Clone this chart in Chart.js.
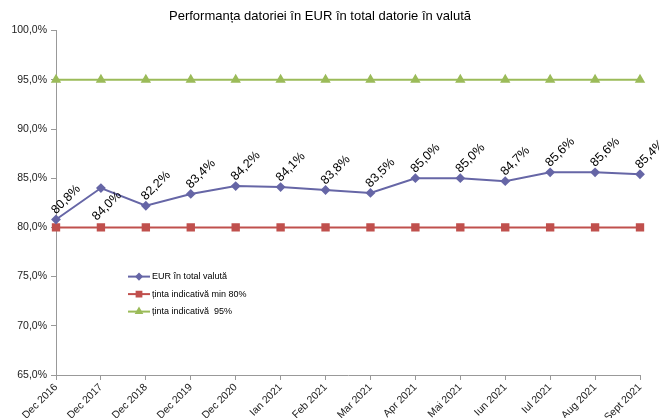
<!DOCTYPE html>
<html>
<head>
<meta charset="utf-8">
<script src="https://cdn.jsdelivr.net/npm/chart.js@4"></script>
<style>
  html, body { margin: 0; padding: 0; background: #fff; }
  #wrap { width: 659px; height: 418px; }
</style>
</head>
<body>
<div id="wrap"><canvas id="chart" width="659" height="418"></canvas></div>
<script>
// Data
const months = ['Dec 2016', 'Dec 2017', 'Dec 2018', 'Dec 2019', 'Dec 2020', 'Ian 2021', 'Feb 2021',
    'Mar 2021', 'Apr 2021', 'Mai 2021', 'Iun 2021', 'Iul 2021', 'Aug 2021', 'Sept 2021'];
const eurShare = [80.8, 84.0, 82.2, 83.4, 84.2, 84.1, 83.8, 83.5, 85.0, 85.0, 84.7, 85.6, 85.6, 85.4];
const targetMin = months.map(() => 80);
const target95 = months.map(() => 95);
const seriesNames = ['EUR în total valută', 'ținta indicativă min 80%', 'ținta indicativă  95%'];

const FONT = '"Liberation Sans", Arial, sans-serif';
const fmt = v => v.toFixed(1).replace('.', ',') + '%';

// value labels, rotated like the Excel original
const valueLabels = {
    id: 'valueLabels',
    afterDatasetsDraw(chart) {
        const ctx = chart.ctx;
        const meta = chart.getDatasetMeta(0);
        ctx.save();
        ctx.font = '12.5px ' + FONT;
        ctx.fillStyle = '#000';
        ctx.textAlign = 'center';
        ctx.textBaseline = 'middle';
        meta.data.forEach((pt, i) => {
            const below = i === 1; // Excel put this one under the point
            ctx.save();
            ctx.translate(pt.x + (below ? 6 : 10), pt.y + (below ? 18 : -20));
            ctx.rotate(-Math.PI / 4);
            ctx.fillText(fmt(eurShare[i]), 0, 0);
            ctx.restore();
        });
        ctx.restore();
    }
};

// legend drawn inside the plot area
const innerLegend = {
    id: 'innerLegend',
    afterDraw(chart) {
        const ctx = chart.ctx;
        const area = chart.chartArea;
        const x0 = area.left + 72;
        let y = area.top + 246;
        ctx.save();
        ctx.font = '9px ' + FONT;
        ctx.textBaseline = 'middle';
        chart.data.datasets.forEach(ds => {
            ctx.strokeStyle = ds.borderColor;
            ctx.lineWidth = 2;
            ctx.beginPath();
            ctx.moveTo(x0, y);
            ctx.lineTo(x0 + 22, y);
            ctx.stroke();
            ctx.fillStyle = ds.backgroundColor;
            Chart.helpers.drawPoint(ctx, {
                pointStyle: ds.pointStyle,
                radius: ds.pointRadius * 0.75,
                borderWidth: 1
            }, x0 + 11, y);
            ctx.fillStyle = '#000';
            ctx.fillText(ds.label, x0 + 24, y);
            y += 17.5;
        });
        ctx.restore();
    }
};

const ctx = document.getElementById('chart').getContext('2d');
new Chart(ctx, {
    type: 'line',
    data: {
        labels: months,
        datasets: [
            {
                label: seriesNames[0],
                data: eurShare,
                borderColor: '#6666A6',
                backgroundColor: '#6666A6',
                borderWidth: 2,
                pointStyle: 'rectRot',
                pointRadius: 3.5,
                clip: false
            },
            {
                label: seriesNames[1],
                data: targetMin,
                borderColor: '#C0504D',
                backgroundColor: '#C0504D',
                borderWidth: 2,
                pointStyle: 'rect',
                pointRadius: 4.5,
                clip: false
            },
            {
                label: seriesNames[2],
                data: target95,
                borderColor: '#9BBB59',
                backgroundColor: '#9BBB59',
                borderWidth: 2,
                pointStyle: 'triangle',
                pointRadius: 4,
                clip: false
            }
        ]
    },
    options: {
        responsive: false,
        animation: false,
        layout: { padding: { left: 0, right: 19, top: 0, bottom: 0 } },
        plugins: {
            legend: { display: false },
            tooltip: { enabled: false },
            title: {
                display: true,
                text: 'Performanța datoriei în EUR în total datorie în valută',
                color: '#000',
                font: { family: FONT, size: 13, weight: 'normal' },
                padding: { top: 9, bottom: 6 }
            }
        },
        scales: {
            x: {
                offset: false,
                afterFit(scale) { scale.height = 43; },
                grid: {
                    display: true,
                    drawOnChartArea: false,
                    color: '#999',
                    tickLength: 5
                },
                border: { color: '#999', width: 1 },
                ticks: {
                    color: '#222',
                    font: { family: FONT, size: 10.5 },
                    minRotation: 45,
                    maxRotation: 45,
                    autoSkip: false,
                    padding: 1
                }
            },
            y: {
                min: 65,
                max: 100,
                afterFit(scale) { scale.width = 56; },
                grid: {
                    display: true,
                    drawOnChartArea: false,
                    color: '#999',
                    tickLength: 5
                },
                border: { color: '#999', width: 1 },
                ticks: {
                    stepSize: 5,
                    color: '#222',
                    font: { family: FONT, size: 10.5 },
                    padding: 4,
                    callback: v => fmt(v)
                }
            }
        }
    },
    plugins: [valueLabels, innerLegend]
});
</script>
</body>
</html>
